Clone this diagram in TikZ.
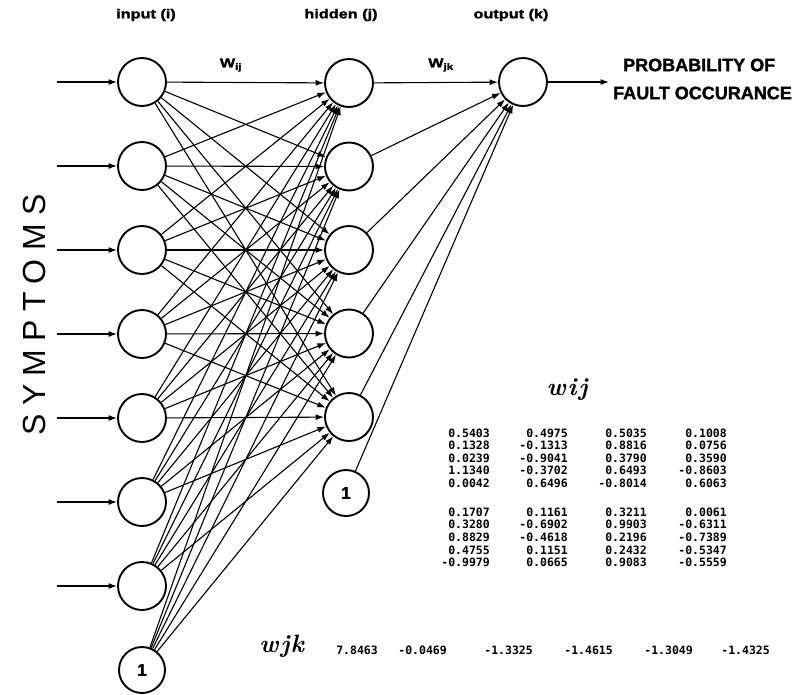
\documentclass[tikz,border=0pt]{standalone}
\usepackage{fontspec}
\newfontfamily\sansf{Liberation Sans}
\newfontfamily\heavyf[FakeBold=1.5]{Liberation Sans Bold}
\newfontfamily\monof{DejaVu Sans Mono}
\newfontfamily\symf[LetterSpace=26]{Liberation Sans}
\usetikzlibrary{arrows.meta}
\begin{document}
\begin{tikzpicture}[x=1pt,y=-1pt,
  neuron/.style={circle,draw,line width=1.9pt,minimum size=48pt,inner sep=0pt},
  biasnode/.style={neuron,minimum size=46pt,font=\heavyf\fontsize{17}{17}\selectfont},
  conn/.style={line width=1.1pt,-{Latex[length=8.5pt,width=6pt]}},
  num/.style={anchor=east,inner sep=0pt,font=\monof\bfseries\fontsize{11.5}{11.5}\selectfont},
  header/.style={inner sep=0pt,font=\heavyf\fontsize{13}{13}\selectfont},
  wlabel/.style={inner sep=0pt,font=\heavyf\fontsize{13}{13}\selectfont},
  bigtext/.style={inner sep=0pt,anchor=west,font=\heavyf\fontsize{18}{18}\selectfont},
  hand/.style={inner sep=0pt,font=\bfseries\itshape\fontsize{25}{25}\selectfont}]
\useasboundingbox (0,0) rectangle (801,694);
% headers
\node[header] (hi) at (146,15) {\scalebox{1.25}[1]{input (i)}};
\node[header] (hh) at (341,15) {\scalebox{1.25}[1]{hidden (j)}};
\node[header] (ho) at (511,15) {\scalebox{1.25}[1]{output (k)}};
% input layer
\foreach \k/\y in {1/82,2/166,3/250,4/334,5/418,6/502,7/586}{
  \node[neuron] (i\k) at (142,\y) {};
  \coordinate (s\k) at (57,\y);
  \draw[conn] (s\k) -- (i\k);
}
\node[biasnode] (i8) at (142,670) {1};
% hidden layer
\foreach \k/\y in {1/83,2/166.5,3/250,4/333.5,5/417}{
  \node[neuron] (h\k) at (349,\y) {};
}
\node[biasnode] (h6) at (346,493) {1};
% output
\node[neuron] (o) at (523,82) {};
\coordinate (out) at (609,82);
% connections
\foreach \a in {1,...,8}{
  \foreach \b in {1,...,5}{
    \draw[conn] (i\a) -- (h\b);
  }
}
\foreach \b in {1,...,6}{
  \draw[conn] (h\b) -- (o);
}
\draw[conn] (o) -- (out);
% weight labels
\node[wlabel] (wij) at (231,65) {\scalebox{1.25}[1]{W\textsubscript{ij}}};
\node[wlabel] (wjk) at (441,65) {\scalebox{1.25}[1]{W\textsubscript{jk}}};
% output text
\node[bigtext] (p1) at (623,65) {PROBABILITY OF};
\node[bigtext] (p2) at (613,93) {FAULT OCCURANCE};
% symptoms
\node[rotate=90,inner sep=0pt] (sym) at (34,315) {\symf\fontsize{32}{32}\selectfont SYMPTOMS};
% hand labels
\node[hand] (hwij) at (567,390) {w\hspace{2pt}i\hspace{2pt}j};
\node[hand,anchor=east] (hwjk) at (304,646) {w\hspace{2pt}j\hspace{1pt}k};
% weight matrix
\foreach \y/\a/\b/\c/\d in {
  433/0.5403/0.4975/0.5035/0.1008,
  445.5/0.1328/-0.1313/0.8816/0.0756,
  458/0.0239/-0.9041/0.3790/0.3590,
  470.5/1.1340/-0.3702/0.6493/-0.8603,
  483/0.0042/0.6496/-0.8014/0.6063,
  512/0.1707/0.1161/0.3211/0.0061,
  524.7/0.3280/-0.6902/0.9903/-0.6311,
  537.4/0.8829/-0.4618/0.2196/-0.7389,
  550.1/0.4755/0.1151/0.2432/-0.5347,
  562.8/-0.9979/0.0665/0.9083/-0.5559}{
  \node[num] at (490,\y) {\a};
  \node[num] at (568,\y) {\b};
  \node[num] at (647,\y) {\c};
  \node[num] at (727,\y) {\d};
}
% wjk row
\foreach \x/\v in {378/7.8463,447/-0.0469,533/-1.3325,613/-1.4615,693/-1.3049,770/-1.4325}{
  \node[num] at (\x,650) {\v};
}
\end{tikzpicture}
\end{document}
